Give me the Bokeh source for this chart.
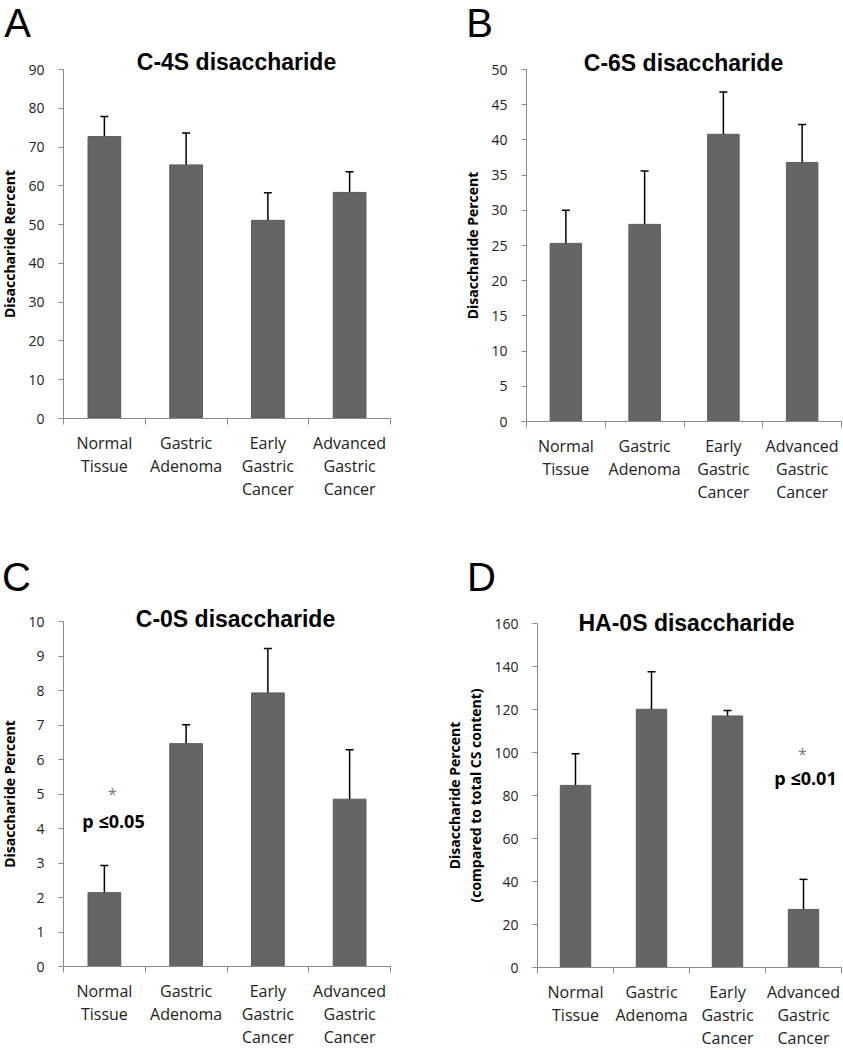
from bokeh.plotting import figure
from bokeh.models import Range1d, FixedTicker, Label, Whisker, TeeHead, ColumnDataSource
from bokeh.layouts import column, row
from bokeh.embed import file_html
from bokeh.resources import INLINE

# ---------------- data ----------------
categories = ["Normal\nTissue", "Gastric\nAdenoma", "Early\nGastric\nCancer", "Advanced\nGastric\nCancer"]

c4s_mean = [72.7, 65.4, 51.1, 58.3]
c4s_low = [66.8, 57.0, 43.7, 52.9]
c4s_high = [77.9, 73.6, 58.2, 63.6]

c6s_mean = [25.3, 28.0, 40.8, 36.8]
c6s_low = [20.3, 20.5, 34.7, 31.2]
c6s_high = [30.0, 35.6, 46.8, 42.2]

c0s_mean = [2.14, 6.46, 7.93, 4.85]
c0s_low = [1.36, 5.86, 6.63, 3.38]
c0s_high = [2.93, 7.01, 9.22, 6.28]

ha0s_mean = [84.7, 120.1, 117.0, 27.0]
ha0s_low = [69.4, 103.0, 114.3, 13.7]
ha0s_high = [99.4, 137.6, 119.5, 41.0]

ticks_c4s = [0, 10, 20, 30, 40, 50, 60, 70, 80, 90]
ticks_c6s = [0, 5, 10, 15, 20, 25, 30, 35, 40, 45, 50]
ticks_c0s = [0, 1, 2, 3, 4, 5, 6, 7, 8, 9, 10]
ticks_ha0s = [0, 20, 40, 60, 80, 100, 120, 140, 160]

BAR = "#656565"
AXIS = "#8a8a8a"
TXT = "#222222"
FONT = "Open Sans"


def make_panel(fig_x, fig_y, fig_w, fig_h, FL, FT, FR, FB, yticks, mean, low, high,
               title, title_xy, letter, letter_xy, ylabel, notes):
    """fig_* : figure box on the page; FL/FT/FR/FB : page pixels of the axes box
    (x axis from category 0 to n, y axis from 0 to the top tick)."""
    n = len(categories)
    ymax = yticks[-1]
    kx = n / (FR - FL)
    ky = ymax / (FB - FT)

    def d(X, Y):
        return ((X - FL) * kx, (FB - Y) * ky)

    x0 = (fig_x - FL) * kx
    x1 = (fig_x + fig_w - FL) * kx
    y0 = (FB - (fig_y + fig_h)) * ky
    y1 = (FB - fig_y) * ky

    p = figure(width=fig_w, height=fig_h, x_range=Range1d(x0, x1), y_range=Range1d(y0, y1),
               output_backend="svg", toolbar_location=None,
               min_border_left=0, min_border_right=0, min_border_top=0, min_border_bottom=0)
    p.xgrid.visible = False
    p.ygrid.visible = False
    p.outline_line_color = None
    p.background_fill_color = "white"
    p.border_fill_color = "white"

    centers = [i + 0.5 for i in range(n)]
    src = ColumnDataSource(dict(x=centers, top=mean, lower=low, upper=high))
    p.vbar(x="x", top="top", bottom=0, width=0.4, source=src,
           fill_color=BAR, line_color="#5c5c5c", line_width=1)
    wh = Whisker(base="x", upper="upper", lower="lower", source=src,
                 line_color="black", line_width=1.5,
                 upper_head=TeeHead(size=8, line_color="black", line_width=1.5),
                 lower_head=TeeHead(size=8, line_color="black", line_width=1.5))
    p.add_layout(wh)

    # x axis pinned at y = 0 (category boundaries ticked, labels centred)
    xa = p.xaxis[0]
    xa.fixed_location = 0
    xa.bounds = (0, n)
    xa.ticker = FixedTicker(ticks=centers, minor_ticks=list(range(n + 1)))
    xa.major_label_overrides = {c: lab for c, lab in zip(centers, categories)}
    xa.major_tick_line_color = None
    xa.minor_tick_line_color = AXIS
    xa.minor_tick_out = 6
    xa.minor_tick_in = 0
    xa.axis_line_color = AXIS
    xa.major_label_text_font = FONT
    xa.major_label_text_font_size = "16px"
    xa.major_label_text_color = TXT
    xa.major_label_text_line_height = 1.055
    xa.major_label_standoff = 7

    # y axis pinned at x = 0
    ya = p.yaxis[0]
    ya.fixed_location = 0
    ya.bounds = (0, ymax)
    ya.ticker = FixedTicker(ticks=yticks)
    ya.minor_tick_line_color = None
    ya.major_tick_line_color = AXIS
    ya.major_tick_out = 5
    ya.major_tick_in = 0
    ya.axis_line_color = AXIS
    ya.major_label_text_font = FONT
    ya.major_label_text_font_size = "14px"
    ya.major_label_text_color = TXT
    ya.major_label_standoff = 14
    ya.axis_label = ylabel
    ya.axis_label_text_font = FONT
    ya.axis_label_text_font_size = "14px"
    ya.axis_label_text_font_style = "bold"
    ya.axis_label_text_color = "black"
    ya.axis_label_standoff = 6
    ya.axis_label_text_line_height = 1.15

    def put(text, X, Y, size, font, style, color):
        # Y is the wanted baseline on the page; small shift for how the label box sits
        lx, ly = d(X, Y - 0.4 * size)
        p.add_layout(Label(x=lx, y=ly, text=text, text_font=font, text_font_style=style,
                           text_font_size=f"{size}px", text_color=color, text_align="center",
                           text_baseline="alphabetic"))

    put(title, title_xy[0], title_xy[1], 23, "Liberation Sans", "bold", "black")
    put(letter, letter_xy[0], letter_xy[1], 40, "Liberation Sans", "normal", "black")
    for text, X, Y, size, color, style in notes:
        put(text, X, Y, size, FONT, style, color)
    return p


pA = make_panel(0, 0, 421, 508, 63, 69, 390, 418, ticks_c4s, c4s_mean, c4s_low, c4s_high,
                "C-4S disaccharide", (236, 71), "A", (17, 38), "Disaccharide Rercent", [])
pB = make_panel(421, 0, 421, 508, 526, 69, 841, 421, ticks_c6s, c6s_mean, c6s_low, c6s_high,
                "C-6S disaccharide", (683, 72), "B", (479, 38), "Disaccharide Percent", [])
pC = make_panel(0, 508, 421, 540, 63, 621, 390, 966, ticks_c0s, c0s_mean, c0s_low, c0s_high,
                "C-0S disaccharide", (235, 628), "C", (16, 592), "Disaccharide Percent",
                [("*", 112, 800, 16, "#7a7a7a", "normal"),
                 ("p \u22640.05", 113, 828, 18, "black", "bold")])
pD = make_panel(421, 508, 421, 540, 537, 623, 841, 967, ticks_ha0s, ha0s_mean, ha0s_low, ha0s_high,
                "HA-0S disaccharide", (686, 632), "D", (481, 592),
                "Disaccharide Percent\n(compared to total CS content)",
                [("*", 802, 760, 16, "#7a7a7a", "normal"),
                 ("p \u22640.01", 805, 785, 18, "black", "bold")])

layout = column(row(pA, pB), row(pC, pD))
open("out.html", "w").write(file_html(layout, INLINE))
